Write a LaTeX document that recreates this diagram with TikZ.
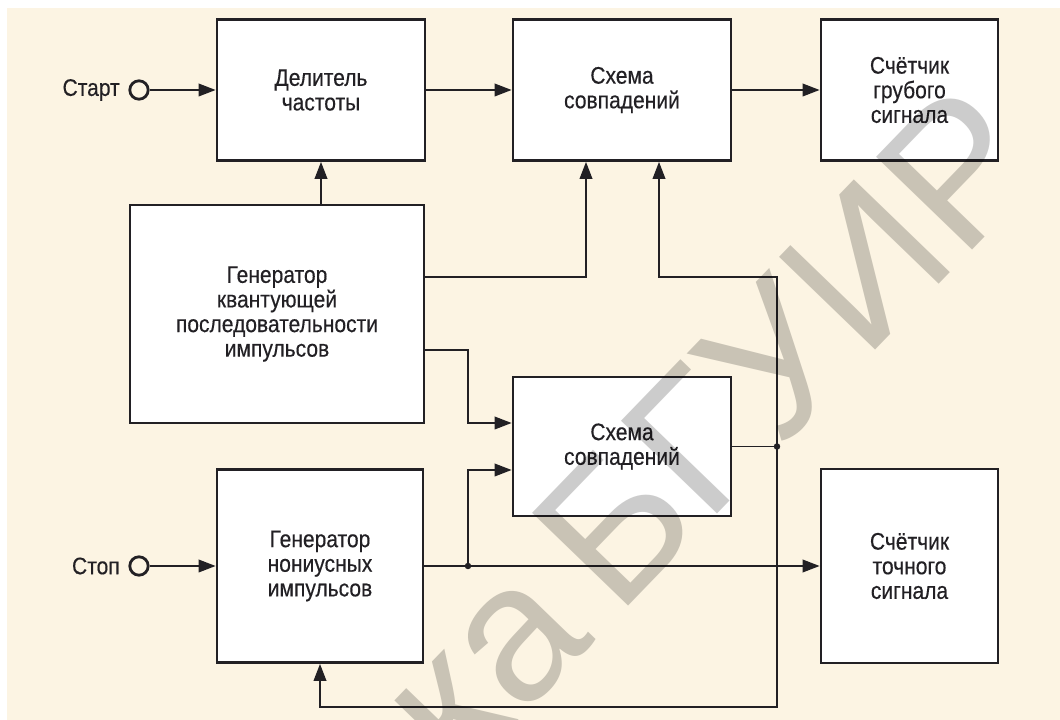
\documentclass[tikz,border=0pt]{standalone}
\usepackage{fontspec}
\setmainfont{Liberation Sans}[FakeStretch=0.88, FakeBold=0.35]
\newfontfamily\wmfont{Liberation Sans}
\usetikzlibrary{arrows.meta}
\definecolor{cream}{RGB}{252,244,227}
\definecolor{ink}{RGB}{34,32,36}
\tikzset{
	box/.style={draw=ink, line width=2pt, fill=white, align=center, text=ink, font=\fontsize{17}{17.5}\selectfont, inner sep=0pt},
	conn/.style={draw=ink, line width=1pt, -{Triangle[length=12pt, width=9pt]}},
	wire/.style={draw=ink, line width=1pt},
	port/.style={circle, draw=ink, line width=2pt, minimum size=0.46cm, inner sep=0pt},
	lbl/.style={text=ink, font=\fontsize{17}{17.5}\selectfont, inner sep=0pt},
	wm/.style={text=black!20, font=\wmfont\fontsize{138}{138}\selectfont, inner sep=0pt},
}

\begin{document}
\begin{tikzpicture}[x=0.025cm, y=-0.025cm]
		%%%%% START %%%%%
		
		\useasboundingbox (0, 0) rectangle (1060, 720);
		\fill[cream] (7, 8) rectangle (1060, 720);
		
		\node[box, minimum width=5.2cm, minimum height=3.525cm] (div) at (321, 90) {Делитель\\частоты};
		\node[box, minimum width=5.45cm, minimum height=3.525cm] (coinA) at (622, 90) {Схема\\совпадений};
		\node[box, minimum width=4.425cm, minimum height=3.525cm] (cntA) at (909.5, 90) {Счётчик\\грубого\\сигнала};
		\node[box, minimum width=7.35cm, minimum height=5.45cm] (gen) at (277, 314) {Генератор\\квантующей\\последовательности\\импульсов};
		\node[box, minimum width=5.45cm, minimum height=3.475cm] (coinB) at (622, 446.5) {Схема\\совпадений};
		\node[box, minimum width=5.15cm, minimum height=4.825cm] (genN) at (320, 566) {Генератор\\нониусных\\импульсов};
		\node[box, minimum width=4.425cm, minimum height=4.85cm] (cntB) at (909.5, 566) {Счётчик\\точного\\сигнала};
		
		\node[port] (start) at (139, 90) {};
		\node[port] (stop) at (139, 566) {};
		\node[lbl, anchor=east] (startlbl) at (120, 90) {Старт};
		\node[lbl, anchor=east] (stoplbl) at (120, 566) {Стоп};
		
		\coordinate (ya) at (0, 277);
		\coordinate (yb) at (0, 350);
		\coordinate (yc) at (0, 423);
		\coordinate (yd) at (0, 470);
		\coordinate (ye) at (0, 707);
		\coordinate (xa) at (586, 0);
		\coordinate (xb) at (659, 0);
		\coordinate (jA) at (777, 446.5);
		\coordinate (jB) at (468, 566);
		
		\draw[conn] (start) -- (div);
		\draw[conn] (div) -- (coinA);
		\draw[conn] (coinA) -- (cntA);
		\draw[conn] (gen.north -| div) -- (div);
		\draw[conn] (gen.east |- ya) -| (xa |- coinA.south);
		\draw[conn] (gen.east |- yb) -| (jB |- yc) -- (coinB.west |- yc);
		\draw[conn] (jB) |- (coinB.west |- yd);
		\draw[conn] (stop) -- (genN);
		\draw[conn] (genN) -- (cntB);
		\draw[wire] (coinB) -- (jA);
		\draw[conn] (jA) |- (xb |- ya) -- (xb |- coinA.south);
		\draw[conn] (jA) |- (genN.south |- ye) -- (genN.south);
		\fill[ink] (jA) circle (2.3pt);
		\fill[ink] (jB) circle (2.3pt);
		
		\begin{scope}[blend mode=multiply]
			\node[wm, rotate=46, anchor=base east] (wmark) at (1052, 168) {Библиотека\kern-0.12em{} БГУИР};
		\end{scope}
		
		%%%%% END %%%%%
\end{tikzpicture}
\end{document}
